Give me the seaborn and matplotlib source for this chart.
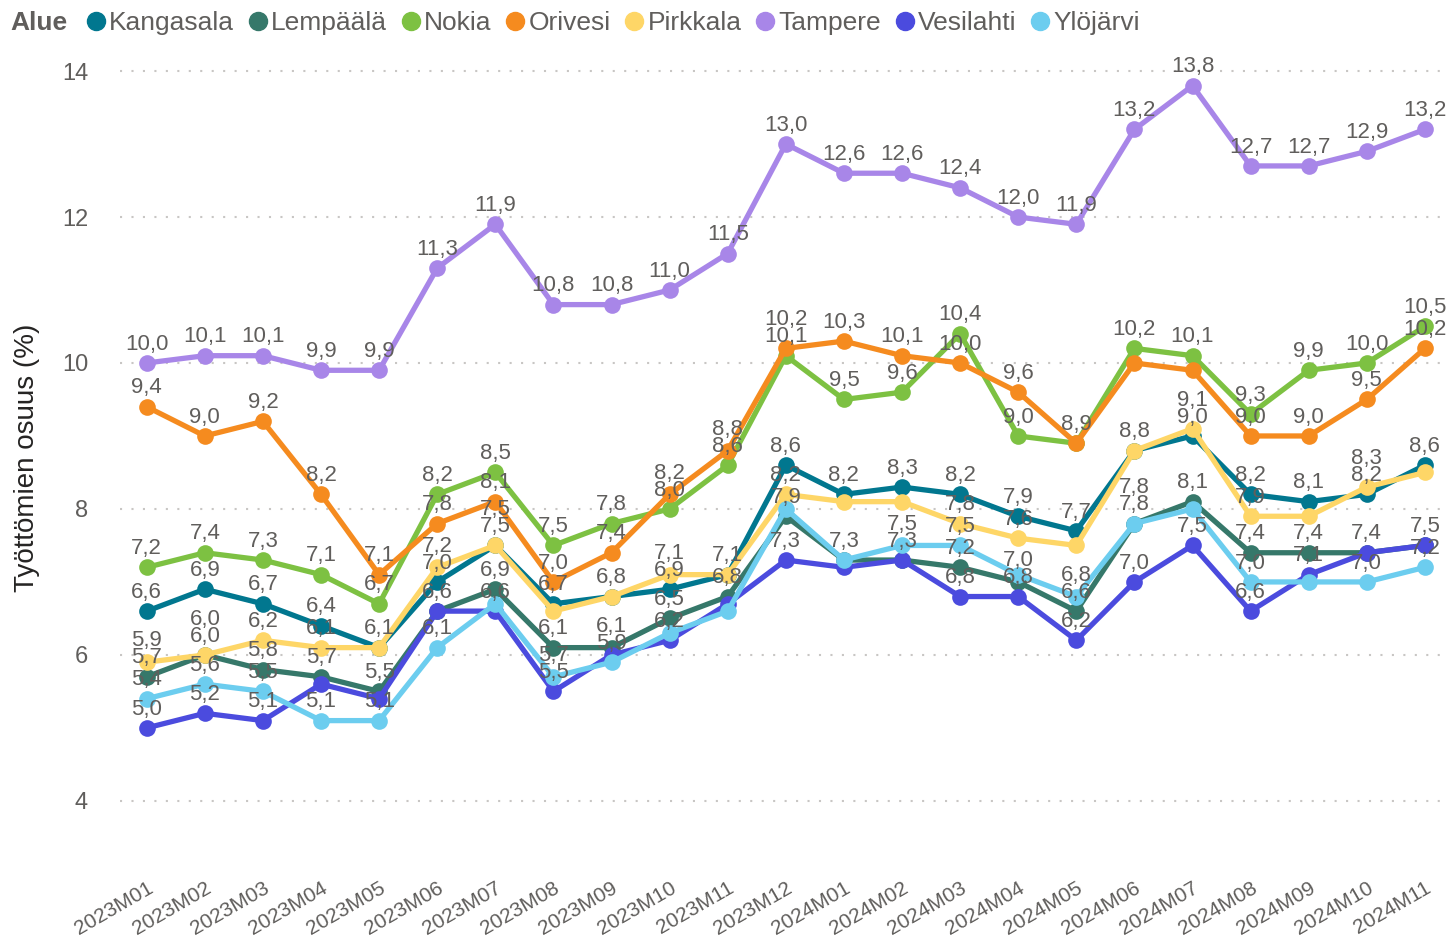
import numpy as np
import pandas as pd
import matplotlib
matplotlib.use("Agg")
import matplotlib.pyplot as plt
import matplotlib.transforms as mtransforms
from matplotlib.lines import Line2D
import seaborn as sns

months = ["2023M01", "2023M02", "2023M03", "2023M04", "2023M05", "2023M06", "2023M07",
          "2023M08", "2023M09", "2023M10", "2023M11", "2023M12", "2024M01", "2024M02",
          "2024M03", "2024M04", "2024M05", "2024M06", "2024M07", "2024M08", "2024M09",
          "2024M10", "2024M11"]

kangasala = [6.6, 6.9, 6.7, 6.4, 6.1, 7.0, 7.5, 6.7, 6.8, 6.9, 7.1, 8.6, 8.2, 8.3, 8.2, 7.9, 7.7, 8.8, 9.0, 8.2, 8.1, 8.2, 8.6]
lempaala = [5.7, 6.0, 5.8, 5.7, 5.5, 6.6, 6.9, 6.1, 6.1, 6.5, 6.8, 7.9, 7.3, 7.3, 7.2, 7.0, 6.6, 7.8, 8.1, 7.4, 7.4, 7.4, 7.5]
nokia = [7.2, 7.4, 7.3, 7.1, 6.7, 8.2, 8.5, 7.5, 7.8, 8.0, 8.6, 10.1, 9.5, 9.6, 10.4, 9.0, 8.9, 10.2, 10.1, 9.3, 9.9, 10.0, 10.5]
orivesi = [9.4, 9.0, 9.2, 8.2, 7.1, 7.8, 8.1, 7.0, 7.4, 8.2, 8.8, 10.2, 10.3, 10.1, 10.0, 9.6, 8.9, 10.0, 9.9, 9.0, 9.0, 9.5, 10.2]
pirkkala = [5.9, 6.0, 6.2, 6.1, 6.1, 7.2, 7.5, 6.6, 6.8, 7.1, 7.1, 8.2, 8.1, 8.1, 7.8, 7.6, 7.5, 8.8, 9.1, 7.9, 7.9, 8.3, 8.5]
tampere = [10.0, 10.1, 10.1, 9.9, 9.9, 11.3, 11.9, 10.8, 10.8, 11.0, 11.5, 13.0, 12.6, 12.6, 12.4, 12.0, 11.9, 13.2, 13.8, 12.7, 12.7, 12.9, 13.2]
vesilahti = [5.0, 5.2, 5.1, 5.6, 5.4, 6.6, 6.6, 5.5, 6.0, 6.2, 6.7, 7.3, 7.2, 7.3, 6.8, 6.8, 6.2, 7.0, 7.5, 6.6, 7.1, 7.4, 7.5]
ylojarvi = [5.4, 5.6, 5.5, 5.1, 5.1, 6.1, 6.7, 5.7, 5.9, 6.3, 6.6, 8.0, 7.3, 7.5, 7.5, 7.1, 6.8, 7.8, 8.0, 7.0, 7.0, 7.0, 7.2]

areas = ["Kangasala", "Lempäälä", "Nokia", "Orivesi", "Pirkkala", "Tampere", "Vesilahti", "Ylöjärvi"]
series = [kangasala, lempaala, nokia, orivesi, pirkkala, tampere, vesilahti, ylojarvi]
colors = ["#01778F", "#36786A", "#7DC142", "#F58B1F", "#FED667", "#A886E8", "#4B4BDE", "#6CCDEF"]
yticks = [4, 6, 8, 10, 12, 14]

# data labels the original hides because they collide (month indices)
hidden_labels = {
    "Lempäälä": [12, 22],
    "Orivesi": [16, 17, 18],
    "Pirkkala": [4, 7, 8, 10, 12, 13, 16, 17, 20, 22],
    "Vesilahti": [3, 4, 5, 8, 10, 12, 13, 21],
    "Ylöjärvi": [6, 9, 10, 11, 15, 18, 20],
}

rows = []
for a, vals in zip(areas, series):
    for i, (m, v) in enumerate(zip(months, vals)):
        rows.append({"Alue": a, "idx": i, "Kuukausi": m, "Arvo": v})
df = pd.DataFrame(rows)

sns.set_theme(style="white")
plt.rcParams["font.family"] = ["Liberation Sans", "DejaVu Sans"]

W, H = 1449, 942
fig = plt.figure(figsize=(W / 100, H / 100), dpi=100)
ax = fig.add_axes([120 / W, 1 - 860 / H, (1440 - 120) / W, (860 - 55) / H])

palette = dict(zip(areas, colors))
sns.lineplot(data=df, x="idx", y="Arvo", hue="Alue", hue_order=areas, palette=palette,
             marker="o", markersize=12, markeredgewidth=0, linewidth=3.8, ax=ax,
             legend=False, zorder=3)

ax.set_xlim(-0.46, 22.26)
ax.set_ylim(3.19, 14.22)
ax.set_yticks(yticks)
ax.set_yticklabels([str(t) for t in yticks], fontsize=17, color="#605E5C")
ax.set_xticks(range(len(months)))
ax.set_xticklabels(months, rotation=30, ha="right", rotation_mode="anchor",
                   fontsize=15, color="#605E5C")
shift = mtransforms.ScaledTranslation(-11 / 100, 0, fig.dpi_scale_trans)
for lbl in ax.get_xticklabels():
    lbl.set_transform(lbl.get_transform() + shift)
ax.tick_params(axis="y", length=0, pad=23)
ax.tick_params(axis="x", length=0, pad=13)
for s in ax.spines.values():
    s.set_visible(False)
ax.yaxis.grid(True, color="#C8C6C4", linestyle=(0, (1, 4.5)), linewidth=1.5)
ax.xaxis.grid(False)
ax.set_xlabel("")
ax.set_ylabel("Työttömien osuus (%)", fontsize=20, color="#252423")
ax.yaxis.set_label_coords((40 - 120) / 1320, 0.5)

# data labels: above each point; stacked labels in a month are kept ~17 px apart
px_per_unit = ax.transData.transform((0, 1))[1] - ax.transData.transform((0, 0))[1]
base_off = 6.0          # points above the marker
min_sep = 17.0          # pixels
for i in range(len(months)):
    items = []
    for a, vals in zip(areas, series):
        if i in hidden_labels.get(a, []):
            continue
        items.append((vals[i], a))
    items.sort()
    prev_px = None
    for v, a in items:
        nat = v * px_per_unit + base_off * 100 / 72   # label bottom, pixels (upwards)
        pos = nat if prev_px is None else max(nat, prev_px + min_sep)
        prev_px = pos
        off_pt = (pos - v * px_per_unit) * 72 / 100
        ax.annotate(f"{v:.1f}".replace(".", ","), (i, v), xytext=(0, off_pt),
                    textcoords="offset points", ha="center", va="bottom",
                    fontsize=16, color="#605E5C", zorder=5)

# legend
fig.text(10 / W, 1 - 23 / H, "Alue", fontsize=19, fontweight="bold", color="#605E5C",
         va="center", ha="left")
handles = [Line2D([], [], marker="o", linestyle="", color=c, markersize=13) for c in colors]
fig.legend(handles, areas, loc="center left", bbox_to_anchor=(84 / W, 1 - 23 / H),
           ncol=len(areas), frameon=False, fontsize=19, handletextpad=0.05,
           columnspacing=0.45, handlelength=0.9, borderaxespad=0, borderpad=0,
           labelcolor="#605E5C")

fig.savefig("out.png", dpi=100)
